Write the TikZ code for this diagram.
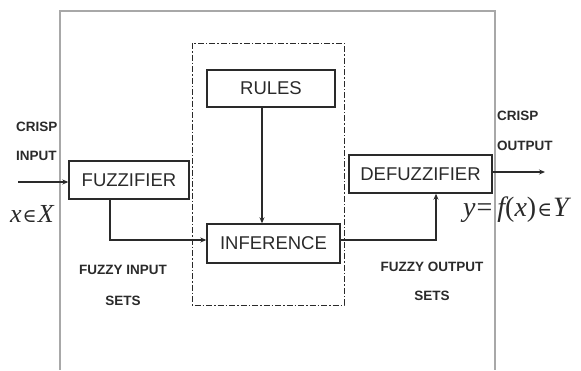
\documentclass[tikz,border=0pt]{standalone}
\usepackage{fontspec}
\setmainfont{Liberation Sans}
\newfontfamily\tms{Liberation Serif}
\newfontfamily\symf{DejaVu Serif}
\usetikzlibrary{arrows.meta}
\definecolor{ink}{HTML}{2A2A2A}
\definecolor{frame}{HTML}{A8A8A8}
\newcommand{\elm}{{\upshape\symf\fontsize{19}{20}\selectfont ∈}}
\tikzset{
  blk/.style={draw=ink, line width=1.4pt, text=ink, font=\fontsize{18.5}{20}\selectfont, inner sep=0pt},
  lbl/.style={text=ink, font=\bfseries\fontsize{13.5}{15}\selectfont, inner sep=0pt},
  mth/.style={text=ink, font=\tms\itshape\fontsize{26}{28}\selectfont, inner sep=0pt},
  mthb/.style={text=ink, font=\tms\itshape\fontsize{28}{30}\selectfont, inner sep=0pt},
  conn/.style={draw=ink, line width=1.1pt, -{Stealth[length=6pt,width=5pt]}},
  seg/.style={draw=ink, line width=1.1pt}
}
\begin{document}
\begin{tikzpicture}[x=1pt,y=-1pt]
\useasboundingbox (0,0) rectangle (581,370);
% outer frame
\draw[frame, line width=1.2pt] (60,370) -- (60,11) -- (495,11) -- (495,370);
% dash-dot inference block
\draw[ink, line width=1pt, dash pattern=on 6pt off 2pt on 1.5pt off 2pt] (192,43) rectangle (344,305);
% blocks
\node[blk, minimum width=128pt, minimum height=37pt] (rules) at (271,88.5) {RULES};
\node[blk, minimum width=120pt, minimum height=38pt] (fuzz) at (129,180) {FUZZIFIER};
\node[blk, minimum width=133pt, minimum height=39pt] (inf) at (273.5,243.5) {INFERENCE};
\node[blk, minimum width=143pt, minimum height=38pt] (defuzz) at (420.5,174) {DEFUZZIFIER};
% coordinates
\coordinate (in) at (18,182);
\coordinate (out) at (545,172);
\coordinate (c1) at (110,240);
\coordinate (c2) at (436,240);
% connectors
\draw[conn] (in) -- (in -| fuzz.west);
\draw[conn] (fuzz.south -| c1) -- (c1) -- (c1 -| inf.west);
\draw[conn] (rules.south -| 262,0) -- (inf.north -| 262,0);
\draw[conn] (inf.east |- c2) -- (c2) -- (defuzz.south -| c2);
\draw[conn] (defuzz.east |- out) -- (out);
% labels
\node[lbl, anchor=west] (crispin) at (16,127) {CRISP};
\node[lbl, anchor=west] (inputl) at (16,156) {INPUT};
\node[mth, anchor=west] (xin) at (10,214) {x\kern1pt\elm\kern1pt X};
\node[lbl] (fis) at (123,270) {FUZZY INPUT};
\node[lbl] (fis2) at (123,301) {SETS};
\node[lbl] (fos) at (432,267) {FUZZY OUTPUT};
\node[lbl] (fos2) at (432,296) {SETS};
\node[lbl, anchor=west] (crispout) at (497,116) {CRISP};
\node[lbl, anchor=west] (outputl) at (497,146) {OUTPUT};
\node[mthb, anchor=west] (yout) at (463,210) {y\kern1pt{\upshape =}\kern5pt f{\upshape (}x{\upshape )}\kern1pt{\upshape\symf\fontsize{20}{22}\selectfont ∈}\kern1pt Y};
\end{tikzpicture}
\end{document}
